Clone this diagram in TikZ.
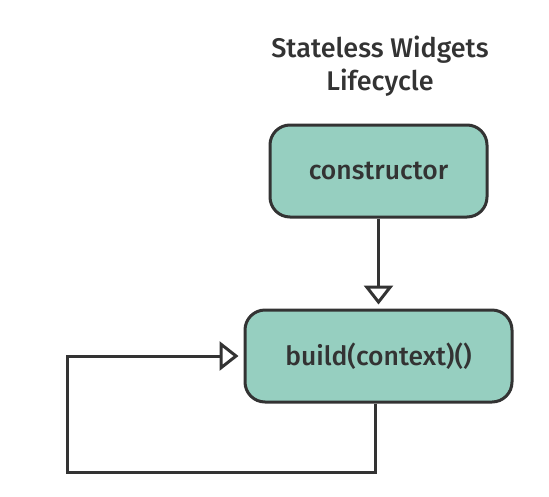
\documentclass[tikz,border=0pt]{standalone}
\usepackage{fontspec}
\setmainfont{Fira Sans}[UprightFont={* Medium}]
\usetikzlibrary{arrows.meta}
\definecolor{mint}{HTML}{96CFC0}
\definecolor{ink}{HTML}{333333}
\begin{document}
\begin{tikzpicture}[x=1pt,y=-1pt,
  box/.style={draw=ink, line width=3pt, fill=mint, rounded corners=20pt, text=ink, font=\fontsize{26.5}{30}\selectfont},
  conn/.style={draw=ink, line width=3pt, -{Triangle[open, length=19pt, width=29pt, fill=white]}}]
\useasboundingbox[fill=white] (0,0) rectangle (549,496);
\node[text=ink, font=\fontsize{27}{33}\selectfont, align=center] (title) at (380,66) {Stateless Widgets\\Lifecycle};
\node[box, minimum width=217pt, minimum height=92pt] (ctor) at (378.5,171) {constructor};
\node[box, minimum width=267pt, minimum height=92pt] (build) at (378.5,356) {build(context)()};
\coordinate (c1) at (375,472);
\coordinate (c2) at (67,472);
\coordinate (c3) at (67,356);
\draw[conn, shorten >=4pt] (ctor.south) -- (build.north);
\draw[conn, rounded corners=0pt, shorten >=5pt] (build.south -| c1) -- (c1) -- (c2) -- (c3) -- (build.west);
\end{tikzpicture}
\end{document}
